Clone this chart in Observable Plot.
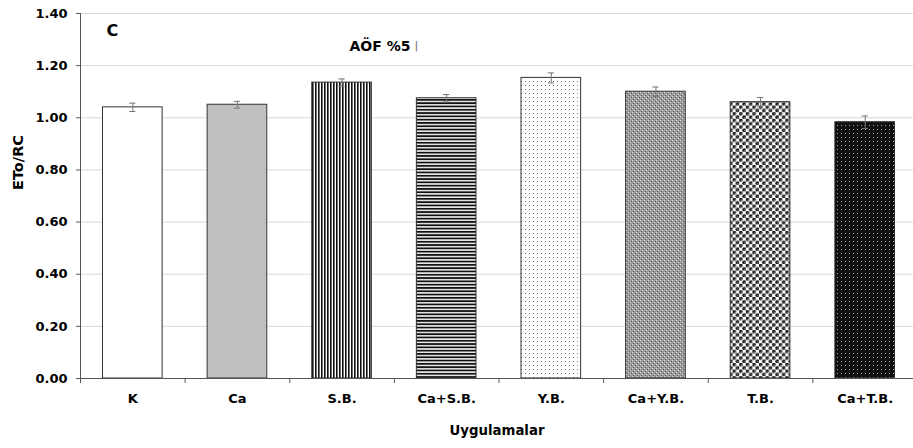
<!DOCTYPE html>
<html><head><meta charset="utf-8">
<script src="https://cdn.jsdelivr.net/npm/d3@7"></script>
<script src="https://cdn.jsdelivr.net/npm/@observablehq/plot@0.6"></script>
<style>body{margin:0;background:#fff} svg{display:block}</style>
</head><body><div id="chart"></div>
<script>
const categories = ["K", "Ca", "S.B.", "Ca+S.B.", "Y.B.", "Ca+Y.B.", "T.B.", "Ca+T.B."];
const values = [1.04, 1.05, 1.135, 1.075, 1.153, 1.10, 1.06, 0.983];
const errors = [0.016, 0.013, 0.014, 0.014, 0.019, 0.018, 0.018, 0.024];
const fills = ["#ffffff", "#c0c0c0", "url(#pV)", "url(#pH)", "url(#pDots)", "url(#pCheck)", "url(#pBalls)", "url(#pDark)"];
const yTicks = [0, 0.2, 0.4, 0.6, 0.8, 1.0, 1.2, 1.4];
const yLabel = "ETo/RC";
const xLabel = "Uygulamalar";
const panelLabel = "C";
const noteLabel = "AÖF %5";

const data = categories.map((c, i) => ({c, i, v: values[i], e: errors[i], fill: fills[i]}));
const pad = 0.215;   // bar gap (fraction of category step on each side)
const cap = 0.03;    // error-bar cap half-width (fraction of step)
const font = "'DejaVu Sans', sans-serif";

const plot = Plot.plot({
  width: 913, height: 448,
  marginLeft: 80, marginRight: 0, marginTop: 13, marginBottom: 70,
  style: {fontFamily: font, fontWeight: "bold", fontSize: "13px", color: "#000", background: "#fff"},
  x: {type: "linear", domain: [0, categories.length], range: [80, 917]},
  y: {domain: [0, 1.4], range: [378, 13]},
  color: {type: "identity"},
  marks: [
    Plot.gridY(yTicks.slice(1), {stroke: "#d9d9d9", strokeOpacity: 1}),
    Plot.rectY(data, {x1: d => d.i + pad, x2: d => d.i + 1 - pad, y1: 0, y2: "v", fill: "fill", stroke: "#333", strokeWidth: 1}),
    Plot.ruleX(data, {x: d => d.i + 0.5, y1: d => d.v - d.e, y2: d => d.v + d.e, stroke: "#777"}),
    Plot.ruleY(data, {x1: d => d.i + 0.5 - cap, x2: d => d.i + 0.5 + cap, y: d => d.v + d.e, stroke: "#777"}),
    Plot.ruleY(data, {x1: d => d.i + 0.5 - cap, x2: d => d.i + 0.5 + cap, y: d => d.v - d.e, stroke: "#777"}),
    Plot.ruleX([0], {y1: 0, y2: 1.4, stroke: "#555"}),
    Plot.ruleY([0], {stroke: "#555"}),
    Plot.axisY({ticks: yTicks, tickFormat: d3.format(".2f"), tickSize: 4, tickPadding: 9, stroke: "#555", label: null}),
    Plot.axisX({ticks: d3.range(categories.length + 1), tickFormat: () => "", tickSize: 5, stroke: "#555", label: null}),
    Plot.axisX({ticks: categories.map((c, i) => i + 0.5), tickFormat: d => categories[Math.floor(d)], tickSize: 0, tickPadding: 15, label: null}),
    Plot.text([yLabel], {text: d => d, frameAnchor: "left", rotate: -90, dx: -62, dy: -6, fontSize: 14.5}),
    Plot.text([xLabel], {text: d => d, frameAnchor: "bottom", dy: 56, fontSize: 13.3}),
    Plot.text([panelLabel], {text: d => d, frameAnchor: "top-left", textAnchor: "start", dx: 26, dy: 11.5, fontSize: 16}),
    Plot.text([noteLabel], {text: d => d, frameAnchor: "top-left", textAnchor: "start", dx: 269, dy: 28, fontSize: 14}),
    Plot.text(["|"], {text: d => d, frameAnchor: "top-left", textAnchor: "start", dx: 334, dy: 28, fontSize: 11, fontWeight: "normal", fill: "#666"})
  ]
});

d3.select(plot).insert("defs", ":first-child").html(`
  <pattern id="pV" patternUnits="userSpaceOnUse" width="3" height="3">
    <rect width="3" height="3" fill="#fff"/><rect width="1.6" height="3" fill="#111"/>
  </pattern>
  <pattern id="pH" patternUnits="userSpaceOnUse" width="4" height="3.3">
    <rect width="4" height="3.3" fill="#e8e8e8"/><rect width="4" height="1.7" fill="#111"/>
  </pattern>
  <pattern id="pDots" patternUnits="userSpaceOnUse" width="4" height="4">
    <rect width="4" height="4" fill="#fff"/><rect x="1" y="1" width="1" height="1" fill="#777"/>
  </pattern>
  <pattern id="pCheck" patternUnits="userSpaceOnUse" width="4" height="4">
    <rect width="4" height="4" fill="#9c9c9c"/>
    <rect x="0" y="0" width="1" height="1" fill="#dcdcdc"/><rect x="2" y="2" width="1" height="1" fill="#dcdcdc"/>
    <rect x="1" y="3" width="1" height="1" fill="#5a5a5a"/><rect x="3" y="1" width="1" height="1" fill="#5a5a5a"/>
  </pattern>
  <pattern id="pBalls" patternUnits="userSpaceOnUse" width="6.6" height="6.6">
    <rect width="6.6" height="6.6" fill="#fff"/>
    <circle cx="1.65" cy="1.65" r="1.9" fill="#1a1a1a"/><circle cx="4.95" cy="4.95" r="1.9" fill="#1a1a1a"/>
    <circle cx="2.2" cy="2.2" r="0.7" fill="#888"/><circle cx="5.5" cy="5.5" r="0.7" fill="#888"/>
  </pattern>
  <pattern id="pDark" patternUnits="userSpaceOnUse" width="4" height="4">
    <rect width="4" height="4" fill="#111"/><rect x="1" y="1" width="1" height="1" fill="#aaa"/>
  </pattern>
`);

document.getElementById("chart").appendChild(plot);
</script>
</body></html>
